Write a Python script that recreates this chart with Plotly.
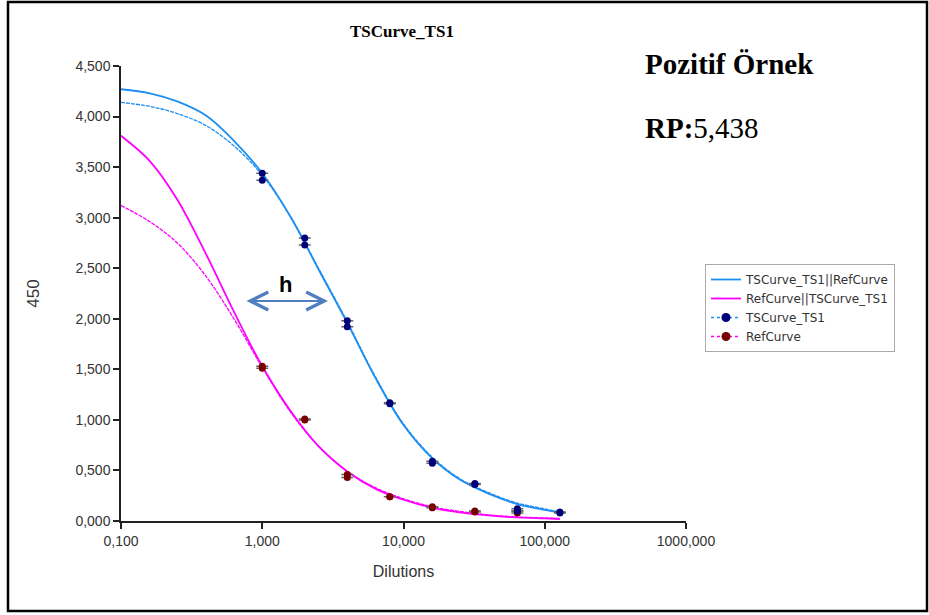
import plotly.graph_objects as go
import numpy as np

# ---------------- data ----------------
dilutions = [1, 2, 4, 8, 16, 32, 64, 128]
ts1_rep1 = [3.44, 2.80, 1.98, 1.17, 0.59, 0.37, 0.12, 0.09]
ts1_rep2 = [3.37, 2.73, 1.92, 1.16, 0.57, 0.36, 0.10, 0.08]

ref_dilutions = [1, 2, 4, 8, 16, 32, 64]
ref_rep1 = [1.53, 1.01, 0.46, 0.24, 0.14, 0.10, 0.10]
ref_rep2 = [1.51, 1.00, 0.43, 0.24, 0.13, 0.09, 0.08]

curve_x = [0.1, 0.16, 0.25, 0.4, 0.63, 1, 1.6, 2.5, 4, 6.3, 10, 16, 25, 40, 63, 100, 128]
ts1_parallel = [4.27, 4.23, 4.15, 4.01, 3.76, 3.44, 3.00, 2.49, 1.96, 1.42, 0.95, 0.62, 0.41, 0.27, 0.17, 0.11, 0.085]
ts1_individual = [4.14, 4.10, 4.03, 3.91, 3.71, 3.42, 3.00, 2.50, 1.97, 1.43, 0.96, 0.63, 0.42, 0.28, 0.18, 0.12, 0.09]
ref_parallel = [3.81, 3.56, 3.18, 2.64, 2.07, 1.53, 1.08, 0.74, 0.49, 0.32, 0.21, 0.13, 0.085, 0.055, 0.035, 0.025, 0.02]
ref_individual = [3.12, 2.96, 2.75, 2.42, 2.00, 1.52, 1.07, 0.74, 0.49, 0.33, 0.22, 0.14, 0.095, 0.06, 0.04, 0.03, 0.025]

x_tickvals = [0.1, 1, 10, 100, 1000]
x_ticktext = ["0,100", "1,000", "10,000", "100,000", "1000,000"]
y_tickvals = [0, 0.5, 1, 1.5, 2, 2.5, 3, 3.5, 4, 4.5]
y_ticktext = ["0,000", "0,500", "1,000", "1,500", "2,000", "2,500", "3,000", "3,500", "4,000", "4,500"]

BLUE = "#1E8FF0"
MAGENTA = "#FF00FF"
NAVY = "#00007A"
DARKRED = "#7A0000"
AX = "#222222"
TXT = "#333333"

fig = go.Figure()

# fitted curves
fig.add_trace(go.Scatter(x=curve_x, y=ts1_individual, mode="lines", showlegend=False,
                         line=dict(color=BLUE, width=1.3, dash="4px,1px", shape="spline")))
fig.add_trace(go.Scatter(x=curve_x, y=ref_individual, mode="lines", showlegend=False,
                         line=dict(color=MAGENTA, width=1.3, dash="4px,1px", shape="spline")))
fig.add_trace(go.Scatter(x=curve_x, y=ts1_parallel, mode="lines", name="TSCurve_TS1||RefCurve",
                         legendrank=1, line=dict(color=BLUE, width=1.8, shape="spline")))
fig.add_trace(go.Scatter(x=curve_x, y=ref_parallel, mode="lines", name="RefCurve||TSCurve_TS1",
                         legendrank=2, line=dict(color=MAGENTA, width=1.8, shape="spline")))

# error bars (mean +- half range)
for xs, r1, r2 in [(dilutions, ts1_rep1, ts1_rep2), (ref_dilutions, ref_rep1, ref_rep2)]:
    a, b = np.array(r1), np.array(r2)
    fig.add_trace(go.Scatter(x=xs, y=(a + b) / 2, mode="markers", showlegend=False,
                             marker=dict(size=1, color="rgba(0,0,0,0)"),
                             error_y=dict(type="data", array=np.abs(a - b) / 2, color="#666666",
                                          thickness=1.5, width=6)))

# replicate markers
for xs, reps, col in [(ref_dilutions, (ref_rep1, ref_rep2), DARKRED), (dilutions, (ts1_rep1, ts1_rep2), NAVY)]:
    for r in reps:
        fig.add_trace(go.Scatter(x=xs, y=r, mode="markers", showlegend=False,
                                 marker=dict(size=7, color=col)))

# legend entries for point series
fig.add_trace(go.Scatter(x=[None], y=[None], mode="lines+markers", name="TSCurve_TS1", legendrank=3,
                         line=dict(color=BLUE, width=1.3, dash="dot"), marker=dict(size=9, color=NAVY)))
fig.add_trace(go.Scatter(x=[None], y=[None], mode="lines+markers", name="RefCurve", legendrank=4,
                         line=dict(color=MAGENTA, width=1.3, dash="dot"), marker=dict(size=9, color=DARKRED)))

L, R, T, B = 121, 243, 66, 94
W, H = 929, 615
pw, ph = W - L - R, H - T - B

def px2paper_x(px):
    return (px - L) / pw

def px2paper_y(py):
    return (H - B - py) / ph

# double arrow "h"
dec = pw / 4.0
yscale = ph / 4.5
fig.add_annotation(x=(328 - L) / dec - 1, y=(H - B - 301) / yscale, xref="x", yref="y",
                   ax=(245 - L) / dec - 1, ay=(H - B - 301) / yscale, axref="x", ayref="y",
                   showarrow=True, arrowhead=5, startarrowhead=5, arrowside="end+start",
                   arrowsize=1.6, startarrowsize=1.6, arrowwidth=2.2, arrowcolor="#4F7FC0", text="")
fig.add_annotation(x=(285 - L) / dec - 1, y=(H - B - 284) / yscale, xref="x", yref="y",
                   text="<b>h</b>", showarrow=False, yanchor="middle",
                   font=dict(family="Arial, Liberation Sans", size=22, color="#000000"))

# title + text annotations
fig.add_annotation(x=px2paper_x(402), y=px2paper_y(31), xref="paper", yref="paper",
                   xanchor="center", yanchor="middle",
                   text="<b>TSCurve_TS1</b>", showarrow=False,
                   font=dict(family="Liberation Serif, Times New Roman", size=17, color="#000000"))
fig.add_annotation(x=px2paper_x(643), y=px2paper_y(64), xref="paper", yref="paper",
                   xanchor="left", yanchor="middle",
                   text="<b>Pozitif Örnek</b>", showarrow=False,
                   font=dict(family="Liberation Serif, Times New Roman", size=29, color="#000000"))
fig.add_annotation(x=px2paper_x(643), y=px2paper_y(128), xref="paper", yref="paper",
                   xanchor="left", yanchor="middle",
                   text="<b>RP:</b>5,438", showarrow=False,
                   font=dict(family="Liberation Serif, Times New Roman", size=29, color="#000000"))

# outer frame
fig.add_shape(type="rect", xref="paper", yref="paper",
              x0=px2paper_x(8), x1=px2paper_x(927), y0=px2paper_y(611), y1=px2paper_y(2),
              line=dict(color="#000000", width=2.5))

fig.update_layout(
    width=W, height=H,
    margin=dict(l=L, r=R, t=T, b=B),
    paper_bgcolor="white", plot_bgcolor="white",
    font=dict(family="Arial, Liberation Sans", size=14, color=TXT),
    legend=dict(x=px2paper_x(705), y=px2paper_y(264), xanchor="left", yanchor="top",
                bordercolor="#AAAAAA", borderwidth=1, bgcolor="white",
                font=dict(family="DejaVu Sans", size=12, color=TXT),
                tracegroupgap=0, itemwidth=30, entrywidth=168, entrywidthmode="pixels"),
    xaxis=dict(type="log", range=[-1, 3], tickvals=x_tickvals, ticktext=x_ticktext,
               showline=True, linecolor=AX, linewidth=1.5, ticks="outside", ticklen=6,
               tickcolor=AX, tickwidth=1.5, showgrid=False, zeroline=False,
               title=dict(text="Dilutions", font=dict(size=16, color=TXT), standoff=18)),
    yaxis=dict(range=[0, 4.5], tickvals=y_tickvals, ticktext=y_ticktext,
               showline=True, linecolor=AX, linewidth=1.5, ticks="outside", ticklen=6,
               tickcolor=AX, tickwidth=1.5, showgrid=False, zeroline=False,
               title=dict(text="450", font=dict(size=17, color=TXT), standoff=31)),
)

fig.write_html("out.html")
